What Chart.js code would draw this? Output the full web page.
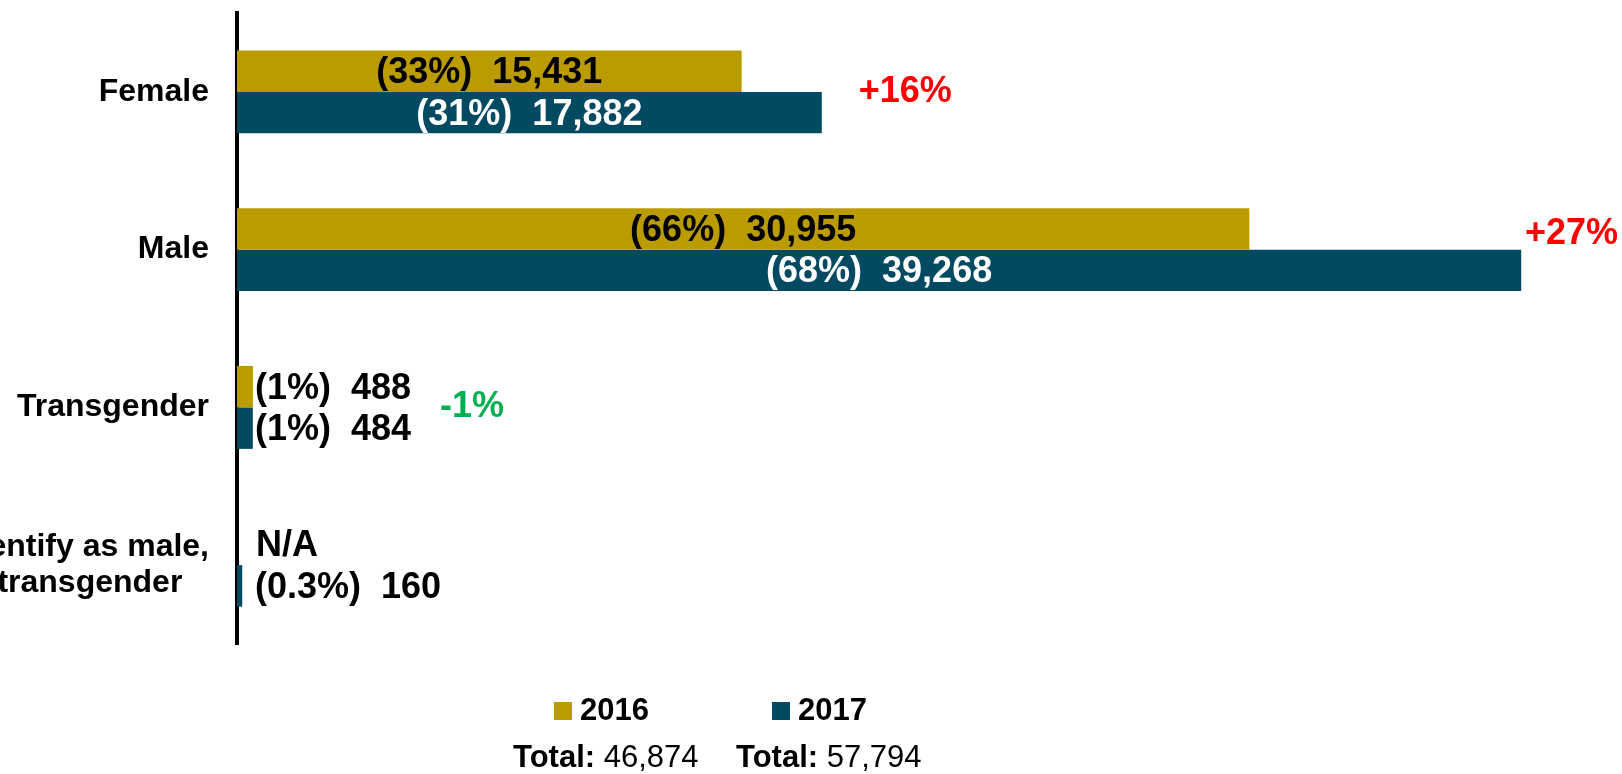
<!DOCTYPE html>
<html>
<head>
<meta charset="utf-8">
<script src="https://cdn.jsdelivr.net/npm/chart.js@4/dist/chart.umd.min.js"></script>
<style>
  html, body { margin: 0; padding: 0; background: #ffffff; }
  #wrap { width: 1622px; height: 774px; }
</style>
</head>
<body>
<div id="wrap"><canvas id="c" width="1622" height="774"></canvas></div>
<script>
// ---- data ----
const categories = ["Female", "Male", "Transgender", ["Does not identify as male,", "female, or transgender   "]];
const years = ["2016", "2017"];
const values2016 = [15431, 30955, 488, null];
const values2017 = [17882, 39268, 484, 160];
const pct2016 = ["33%", "66%", "1%", null];
const pct2017 = ["31%", "68%", "1%", "0.3%"];
const changes = ["+16%", "+27%", "-1%", null];
const xMax = 42350;

const FONT = '"Liberation Sans", Arial, Helvetica, sans-serif';
const GOLD = '#BB9C00';
const TEAL = '#014A61';
const pcts = [pct2016, pct2017];

const labelPlugin = {
  id: 'labelPlugin',
  afterDatasetsDraw(chart) {
    const ctx = chart.ctx;
    const xs = chart.scales.x, ys = chart.scales.y;
    const x0 = xs.getPixelForValue(0);
    const rightBar = categories.map(() => x0);
    const rightText = categories.map(() => -Infinity);
    ctx.save();
    ctx.font = 'bold 36px ' + FONT;
    ctx.textBaseline = 'middle';
    const m1 = chart.getDatasetMeta(1);
    chart.data.datasets.forEach((ds, di) => {
      const meta = chart.getDatasetMeta(di);
      meta.data.forEach((bar, i) => {
        const v = ds.data[i];
        let y = bar.y;
        if (!isFinite(y)) {
          const b1 = m1.data[i];
          y = b1.y - b1.height;
        }
        y += 2;
        if (v == null) {
          ctx.fillStyle = '#000';
          ctx.textAlign = 'left';
          ctx.fillText('N/A', x0 + 19, y);
          rightText[i] = Math.max(rightText[i], x0 + 19 + ctx.measureText('N/A').width);
          return;
        }
        rightBar[i] = Math.max(rightBar[i], bar.x);
        const txt = '(' + pcts[di][i] + ')  ' + v.toLocaleString('en-US');
        const w = ctx.measureText(txt).width;
        if (bar.x - x0 > w + 20) {
          ctx.fillStyle = di === 0 ? '#000000' : '#ffffff';
          ctx.textAlign = 'center';
          ctx.fillText(txt, (x0 + bar.x) / 2, y);
        } else {
          ctx.fillStyle = '#000000';
          ctx.textAlign = 'left';
          ctx.fillText(txt, x0 + 18, y);
          rightText[i] = Math.max(rightText[i], x0 + 18 + w);
        }
      });
    });
    // change labels
    changes.forEach((c, i) => {
      if (!c) return;
      const w = ctx.measureText(c).width;
      let x = Math.max(rightBar[i] + 37, rightText[i] + 29);
      let y = ys.getPixelForValue(i);
      if (x + w > chart.width - 4) { x = chart.width - 4 - w; y -= 16; }
      ctx.fillStyle = c.trim().startsWith('+') ? '#FF0000' : '#00B050';
      ctx.textAlign = 'left';
      ctx.fillText(c, x, y);
    });
    ctx.restore();
  },
  afterDraw(chart) {
    const ctx = chart.ctx;
    ctx.save();
    ctx.textBaseline = 'middle';
    ctx.textAlign = 'left';
    const legendX = [554, 772];
    const totalX = [513, 736];
    const series = [values2016, values2017];
    chart.data.datasets.forEach((ds, di) => {
      ctx.fillStyle = ds.backgroundColor;
      ctx.fillRect(legendX[di], 702, 18, 18);
      ctx.fillStyle = '#000';
      ctx.font = 'bold 31px ' + FONT;
      ctx.fillText(ds.label, legendX[di] + 26, 711);
      const total = series[di].reduce((a, b) => a + (b || 0), 0);
      ctx.font = 'bold 31px ' + FONT;
      const t1 = 'Total:';
      ctx.fillText(t1, totalX[di], 758);
      const w1 = ctx.measureText(t1).width;
      ctx.font = '31px ' + FONT;
      ctx.fillText(' ' + total.toLocaleString('en-US'), totalX[di] + w1, 758);
    });
    ctx.restore();
  }
};

new Chart(document.getElementById('c'), {
  type: 'bar',
  data: {
    labels: categories,
    datasets: [
      { label: years[0], data: values2016, backgroundColor: GOLD, borderWidth: 0 },
      { label: years[1], data: values2017, backgroundColor: TEAL, borderWidth: 0 }
    ]
  },
  options: {
    indexAxis: 'y',
    responsive: false,
    animation: false,
    devicePixelRatio: 1,
    categoryPercentage: 0.526,
    barPercentage: 1.0,
    layout: { padding: { left: 0, right: 0, top: 13, bottom: 130 } },
    plugins: {
      legend: { display: false },
      tooltip: { enabled: false }
    },
    scales: {
      x: { display: false, min: 0, max: xMax },
      y: {
        z: 1,
        afterFit(scale) { scale.width = 237; scale.paddingTop = 0; scale.paddingBottom = 0; },
        grid: { display: false, tickLength: 0 },
        border: { display: true, color: '#000000', width: 4 },
        ticks: {
          padding: 28,
          color: '#000000',
          font: { family: FONT, size: 32, weight: 'bold', lineHeight: 1.1 }
        }
      }
    }
  },
  plugins: [labelPlugin]
});
</script>
</body>
</html>
